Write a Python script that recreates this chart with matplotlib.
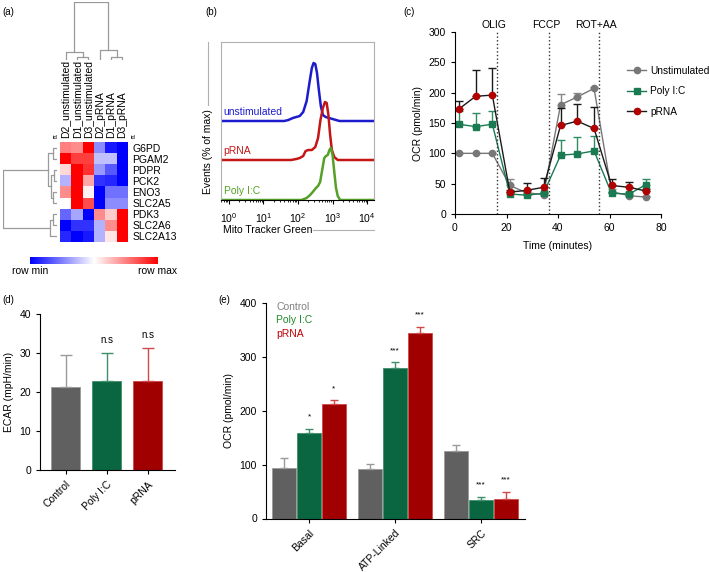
import numpy as np
import matplotlib
matplotlib.use("Agg")
from matplotlib import pyplot as plt
from matplotlib.colors import LinearSegmentedColormap
from matplotlib.ticker import LogFormatterSciNotation, LogLocator

plt.rcParams['font.family'] = ['Liberation Sans', 'DejaVu Sans']
plt.rcParams['mathtext.default'] = 'regular'
plt.rcParams['axes.linewidth'] = 0.8
plt.rcParams['xtick.major.width'] = 0.8
plt.rcParams['ytick.major.width'] = 0.8
plt.rcParams['xtick.major.size'] = 3
plt.rcParams['ytick.major.size'] = 3
plt.rcParams['font.size'] = 7

# ---- (a) heatmap data ----
genes = ['G6PD', 'PGAM2', 'PDPR', 'PCK2', 'ENO3', 'SLC2A5', 'PDK3', 'SLC2A6', 'SLC2A13']
samples = ['D2_unstimulated', 'D1_unstimulated', 'D3_unstimulated', 'D2_pRNA', 'D1_pRNA', 'D3_pRNA']
heat = [
    [0.5, 0.45, 1.0, -0.45, -0.9, -1.0],
    [1.0, 0.75, 0.75, -0.25, -0.25, -1.0],
    [0.15, 1.0, 0.8, -0.4, -0.65, -1.0],
    [-0.3, 1.0, 0.35, -0.8, -0.85, -1.0],
    [0.45, 1.0, 0.05, -1.0, -0.55, -0.55],
    [0.0, 1.0, 0.7, -1.0, -0.45, -0.45],
    [-0.6, -0.35, -1.0, 0.45, 0.2, 1.0],
    [-1.0, -0.8, -0.8, -0.3, 0.45, 1.0],
    [-0.85, -1.0, -0.9, -0.3, 0.1, 1.0],
]
# dendrograms as (left, right, merge height)
row_tree = (((0, 1, 0.08), ((2, 3, 0.06), (4, 5, 0.08), 0.11), 0.17), ((6, 7, 0.08), 8, 0.13), 1.0)
col_tree = ((0, (1, 2, 0.05), 0.14), (3, (4, 5, 0.05), 0.17), 1.0)

# ---- (b) flow histograms: log10(intensity), height ----
unstim_logx = [-0.3, 1.6, 1.72, 1.85, 1.95, 2.05, 2.15, 2.25, 2.33, 2.4, 2.45, 2.5, 2.55, 2.6, 2.66, 2.72, 2.8, 2.9, 3.0, 3.1, 3.2, 4.3]
unstim_h = [0, 0, 1, 3, 4, 5, 9, 20, 38, 53, 58, 57, 48, 32, 15, 6, 4, 3, 2, 1, 0, 0]
prna_logx = [-0.3, 1.8, 1.95, 2.05, 2.15, 2.22, 2.3, 2.4, 2.5, 2.58, 2.65, 2.72, 2.78, 2.83, 2.88, 2.93, 2.98, 3.05, 3.15, 4.3]
prna_h = [0, 0, 1, 2, 4, 9, 10, 10, 13, 22, 40, 52, 58, 57, 45, 25, 10, 3, 0, 0]
polyic_logx = [-0.3, 2.1, 2.25, 2.35, 2.45, 2.52, 2.58, 2.64, 2.7, 2.76, 2.81, 2.86, 2.91, 2.95, 3.0, 3.05, 3.1, 3.15, 3.22, 4.3]
polyic_h = [0, 0, 2, 5, 9, 12, 14, 18, 30, 42, 44, 45, 50, 52, 45, 28, 12, 4, 0, 0]
hist_names = ['unstimulated', 'pRNA', 'Poly I:C']
hist_offsets = [79, 40, 0]

# ---- (c) OCR time course ----
time_min = [1.5, 8, 14.5, 21.3, 27.8, 34.4, 41, 47.5, 54, 60.8, 67.7, 74]
ocr_unstim = [100, 100, 100, 47, 35, 32, 180, 193, 207, 37, 30, 28]
err_unstim = [0, 0, 0, 10, 3, 2, 18, 6, 2, 4, 3, 2]
ocr_polyic = [148, 144, 148, 33, 31, 34, 97, 99, 104, 34, 33, 48]
err_polyic = [22, 23, 22, 3, 2, 3, 25, 28, 24, 3, 3, 9]
ocr_prna = [173, 194, 196, 36, 39, 44, 146, 153, 141, 47, 44, 38]
err_prna = [14, 43, 45, 3, 12, 15, 29, 29, 35, 11, 9, 3]
injections = ['OLIG', 'FCCP', 'ROT+AA']
injection_times = [16.3, 36.5, 56]

# ---- (d) ECAR ----
ecar_groups = ['Control', 'Poly I:C', 'pRNA']
ecar_mean = [21.3, 22.7, 22.7]
ecar_err = [8.3, 7.3, 8.5]
ecar_sig = ['', 'n.s', 'n.s']

# ---- (e) OCR parameters ----
ocr_params = ['Basal', 'ATP-Linked', 'SRC']
par_control = [93, 92, 125]
par_control_err = [19, 9, 12]
par_polyic = [159, 279, 34]
par_polyic_err = [8, 11, 6]
par_prna = [212, 345, 36]
par_prna_err = [8, 11, 14]
sig_polyic = ['*', '***', '***']
sig_prna = ['*', '***', '***']

W, H = 709, 572


def box(x0, y0, x1, y1):
    # pixel box (top-left origin) -> figure fraction rect
    return [x0 / W, 1 - y1 / H, (x1 - x0) / W, (y1 - y0) / H]


def draw_tree(ax, node, rows):
    if isinstance(node, int):
        return node, 0.0
    left, right, h = node
    p1, h1 = draw_tree(ax, left, rows)
    p2, h2 = draw_tree(ax, right, rows)
    pos = [p1, p1, p2, p2]
    hts = [h1, h, h, h2]
    if rows:
        ax.plot(hts, pos, color='#9a9a9a', lw=0.9)
    else:
        ax.plot(pos, hts, color='#9a9a9a', lw=0.9)
    return (p1 + p2) / 2, h


fig = plt.figure(figsize=(7.09, 5.72), dpi=100)

# ================= (a) =================
cmap = LinearSegmentedColormap.from_list('bwr2', ['#0000ff', '#ffffff', '#ff0000'])
ax_h = fig.add_axes(box(60, 142, 128, 242))
im = ax_h.imshow(np.array(heat), cmap=cmap, vmin=-1, vmax=1, aspect='auto', interpolation='nearest')
ax_h.set_yticks(range(len(genes)))
ax_h.set_yticklabels(genes, fontsize=7.5)
ax_h.yaxis.tick_right()
ax_h.xaxis.tick_top()
ax_h.set_xticks(range(len(samples)))
ax_h.set_xticklabels(samples, rotation=90, fontsize=7.5)
ax_h.tick_params(length=0, pad=3)
for s in ax_h.spines.values():
    s.set_visible(False)
ax_h.text(-0.03, 1.02, 'id', transform=ax_h.transAxes, fontsize=4.5, ha='right', va='bottom')
ax_h.text(1.04, 1.02, 'id', transform=ax_h.transAxes, fontsize=4.5, ha='left', va='bottom')

ax_cd = fig.add_axes(box(60, 2, 128, 60))
draw_tree(ax_cd, col_tree, rows=False)
ax_cd.set_xlim(-0.5, len(samples) - 0.5)
ax_cd.set_ylim(0, 1.0)
ax_cd.axis('off')

ax_rd = fig.add_axes(box(3, 142, 57, 242))
draw_tree(ax_rd, row_tree, rows=True)
ax_rd.set_ylim(len(genes) - 0.5, -0.5)
ax_rd.set_xlim(1.0, 0)
ax_rd.axis('off')

cax = fig.add_axes(box(30, 257, 158, 264))
cb = fig.colorbar(im, cax=cax, orientation='horizontal')
cb.outline.set_visible(False)
cb.set_ticks([])
cax.text(0, -0.25, 'row min', transform=cax.transAxes, ha='center', va='top', fontsize=7.5)
cax.text(1, -0.25, 'row max', transform=cax.transAxes, ha='center', va='top', fontsize=7.5)

# ================= (b) =================
ax_b = fig.add_axes(box(221, 42, 374, 200))
hist_colors = ['#1c1ccc', '#c41616', '#56a028']
hist_x = [unstim_logx, prna_logx, polyic_logx]
hist_y = [unstim_h, prna_h, polyic_h]
for name, lx, hy, off, c in zip(hist_names, hist_x, hist_y, hist_offsets, hist_colors):
    ax_b.plot(10 ** np.array(lx), np.array(hy) + off, color=c, lw=1.8)
    ax_b.text(10 ** -0.15, off + 4, name, color=c, fontsize=7.5, ha='left', va='bottom')
ax_b.set_xscale('log')
ax_b.set_xlim(10 ** -0.23, 10 ** 4.2)
ax_b.set_ylim(0, 158)
ax_b.set_yticks([])
ax_b.xaxis.set_major_locator(LogLocator(base=10, numticks=10))
ax_b.set_xticks([1, 10, 100, 1000, 10000])
ax_b.xaxis.set_major_formatter(LogFormatterSciNotation())
ax_b.xaxis.set_minor_locator(LogLocator(base=10, subs=np.arange(2, 10), numticks=20))
for k in ['left', 'top', 'right']:
    ax_b.spines[k].set_color('#b0b0b0')
ax_b.tick_params(axis='x', which='major', length=3, labelsize=7.5, pad=5)
ax_b.tick_params(axis='x', which='minor', length=1.5)
ax_b.text(-0.085, 0.04, 'Events (% of max)', rotation=90, transform=ax_b.transAxes,
          ha='center', va='bottom', fontsize=7.5)
ax_b.plot([-0.085, -0.085], [0.6, 1.0], transform=ax_b.transAxes, clip_on=False, color='#b0b0b0', lw=0.8)
ax_b.text(0.01, -0.19, 'Mito Tracker Green', transform=ax_b.transAxes, ha='left', va='center', fontsize=7.5)
ax_b.plot([0.6, 1.0], [-0.19, -0.19], transform=ax_b.transAxes, clip_on=False, color='#b0b0b0', lw=0.8)

# ================= (c) =================
ax_c = fig.add_axes(box(455, 32, 661, 214))
series = [
    ('Unstimulated', ocr_unstim, err_unstim, '#777777', '#777777', 'o', '#888888'),
    ('Poly I:C', ocr_polyic, err_polyic, '#1a7a52', '#1a7a52', 's', '#2e8a63'),
    ('pRNA', ocr_prna, err_prna, '#1a1a1a', '#b00000', 'o', '#1a1a1a'),
]
for label, y, e, lc, mc, mk, ec in series:
    ax_c.errorbar(time_min, y, yerr=[np.zeros(len(e)), e], fmt='none', ecolor=ec,
                  elinewidth=1, capsize=3, capthick=1)
    ax_c.plot(time_min, y, color=lc, lw=1, marker=mk, ms=4.5, mfc=mc, mec=mc, label=label)
for name, t in zip(injections, injection_times):
    ax_c.axvline(t, color='#333333', ls=':', lw=1)
    ax_c.text(t - 1.2, 1.04, name, transform=ax_c.get_xaxis_transform(), ha='center',
              va='center', fontsize=7.5)
ax_c.set_xlim(0, 80)
ax_c.set_ylim(0, 300)
ax_c.set_xticks([0, 20, 40, 60, 80])
ax_c.set_yticks(range(0, 301, 50))
ax_c.tick_params(labelsize=7.5)
ax_c.spines['top'].set_visible(False)
ax_c.spines['right'].set_visible(False)
ax_c.set_xlabel('Time (minutes)', fontsize=7.5, labelpad=6)
ax_c.set_ylabel('OCR (pmol/min)', fontsize=7.5, labelpad=4)
ax_c.legend(loc='upper left', bbox_to_anchor=(0.835, 0.815), frameon=False, fontsize=7.3,
            handlelength=1.9, handletextpad=0.4, labelspacing=1.05, borderaxespad=0, borderpad=0)

# ================= (d) =================
bar_colors = ['#606060', '#0a6640', '#a00000']
err_colors = ['#9a9a9a', '#3f8f6c', '#d04848']
ax_d = fig.add_axes(box(40, 314, 175, 470))
xd = np.arange(len(ecar_groups))
for i in range(len(ecar_groups)):
    ax_d.bar(xd[i], ecar_mean[i], width=0.71, color=bar_colors[i], edgecolor=err_colors[i], lw=0.6)
    ax_d.errorbar(xd[i], ecar_mean[i], yerr=[[0], [ecar_err[i]]], fmt='none', ecolor=err_colors[i],
                  elinewidth=1, capsize=4.5, capthick=1)
    if ecar_sig[i]:
        ax_d.text(xd[i], ecar_mean[i] + ecar_err[i] + 3.4, ecar_sig[i], ha='center', va='center', fontsize=7)
ax_d.set_xlim(-0.63, 2.66)
ax_d.set_ylim(0, 40)
ax_d.set_yticks([0, 10, 20, 30, 40])
ax_d.set_xticks(xd)
ax_d.set_xticklabels(ecar_groups, rotation=45, ha='right', rotation_mode='anchor')
ax_d.tick_params(labelsize=7.5)
ax_d.spines['top'].set_visible(False)
ax_d.spines['right'].set_visible(False)
ax_d.set_ylabel('ECAR (mpH/min)', fontsize=7.5)

# ================= (e) =================
ax_e = fig.add_axes(box(266, 303, 525, 518.5))
xe = np.arange(len(ocr_params))
step, bw = 0.29, 0.28
groups_e = [
    ('Control', par_control, par_control_err, None),
    ('Poly I:C', par_polyic, par_polyic_err, sig_polyic),
    ('pRNA', par_prna, par_prna_err, sig_prna),
]
handles = []
for k, (label, vals, errs, sig) in enumerate(groups_e):
    pos = xe + (k - 1) * step
    b = ax_e.bar(pos, vals, width=bw, color=bar_colors[k], edgecolor=err_colors[k], lw=0.6, label=label)
    handles.append(b)
    ax_e.errorbar(pos, vals, yerr=[np.zeros(len(errs)), errs], fmt='none', ecolor=err_colors[k],
                  elinewidth=1, capsize=3, capthick=1)
    if sig:
        for p, v, e, s in zip(pos, vals, errs, sig):
            ax_e.text(p, v + e + 15, s, ha='center', va='bottom', fontsize=6)
ax_e.set_xlim(-0.5, 2.51)
ax_e.set_ylim(0, 400)
ax_e.set_yticks([0, 100, 200, 300, 400])
ax_e.set_xticks(xe)
ax_e.set_xticklabels(ocr_params, rotation=45, ha='right', rotation_mode='anchor')
ax_e.tick_params(labelsize=7.5)
ax_e.spines['top'].set_visible(False)
ax_e.spines['right'].set_visible(False)
ax_e.set_ylabel('OCR (pmol/min)', fontsize=7.5)
leg = ax_e.legend(handles=handles, loc='upper left', bbox_to_anchor=(0.02, 1.03), frameon=False,
                  fontsize=7.5, handlelength=0, handletextpad=0, labelspacing=0.35, borderpad=0)
for t, c in zip(leg.get_texts(), ['#808080', '#1f8a2a', '#c00000']):
    t.set_color(c)
for h in leg.legend_handles:
    h.set_visible(False)

# panel letters
for lab, x, y in [('(a)', 2, 12), ('(b)', 205, 12), ('(c)', 403, 12), ('(d)', 2, 300), ('(e)', 218, 300)]:
    fig.text(x / W, 1 - y / H, lab, fontsize=7, ha='left', va='center')

fig.savefig('out.png', dpi=100)
